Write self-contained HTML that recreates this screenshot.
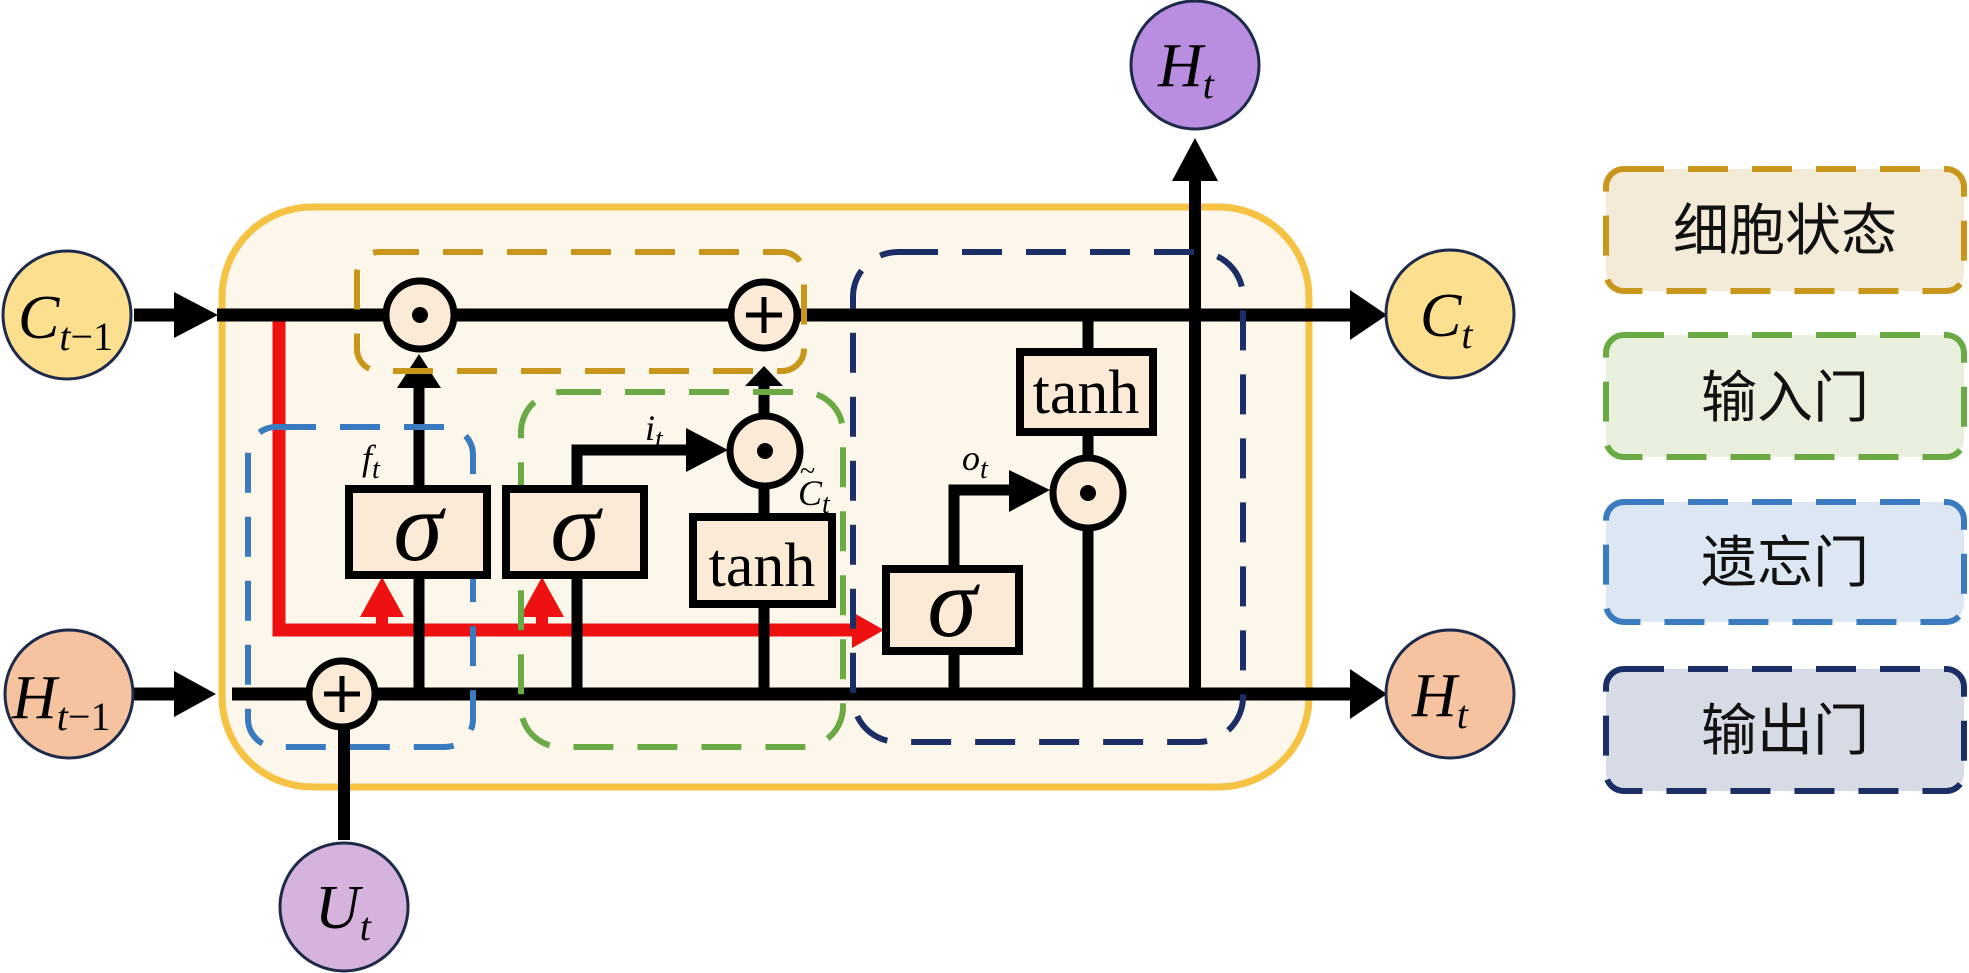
<!DOCTYPE html>
<html><head><meta charset="utf-8"><style>
html,body{margin:0;padding:0;background:#fff;}
svg{display:block;}
.s{font-family:"Liberation Serif",serif;}
.cjk{font-family:"Liberation Sans","Noto Sans CJK SC",sans-serif;}
</style></head><body>
<svg width="1969" height="973" viewBox="0 0 1969 973" xmlns="http://www.w3.org/2000/svg">
<rect x="222" y="207" width="1087" height="580" rx="90" fill="#fcf7ea" stroke="#f6c244" stroke-width="7"/>

<path d="M279,315 V630 H852" fill="none" stroke="#ee1111" stroke-width="13"/>
<polygon points="852,612 884,630 852,648" fill="#ee1111"/>
<polygon points="360,617 382,577 404,617" fill="#ee1111"/>
<rect x="376" y="612" width="12" height="18" fill="#ee1111"/>
<polygon points="520,617 542,577 564,617" fill="#ee1111"/>
<rect x="536" y="612" width="12" height="18" fill="#ee1111"/>

<line x1="217" y1="315" x2="1352" y2="315" stroke="#000" stroke-width="13"/>
<polygon points="1350,290 1387,315 1350,340" fill="#000"/>
<line x1="134" y1="315" x2="176" y2="315" stroke="#000" stroke-width="13"/>
<polygon points="174,292 218,315 174,338" fill="#000"/>

<line x1="232" y1="694" x2="1352" y2="694" stroke="#000" stroke-width="13"/>
<polygon points="1350,669 1387,694 1350,719" fill="#000"/>
<line x1="134" y1="694" x2="176" y2="694" stroke="#000" stroke-width="13"/>
<polygon points="174,671 216,694 174,717" fill="#000"/>

<line x1="344" y1="700" x2="344" y2="840" stroke="#000" stroke-width="12"/>
<line x1="419" y1="700" x2="419" y2="385" stroke="#000" stroke-width="11"/>
<polygon points="397,388 419,354 441,388" fill="#000"/>
<path d="M577,694 V450 H690" fill="none" stroke="#000" stroke-width="11"/>
<polygon points="686,428 728,450 686,472" fill="#000"/>
<line x1="764" y1="694" x2="764" y2="385" stroke="#000" stroke-width="11"/>
<polygon points="745,386 764,366 783,386" fill="#000"/>
<path d="M954,694 V490 H1012" fill="none" stroke="#000" stroke-width="11"/>
<polygon points="1009,470 1050,490 1009,512" fill="#000"/>
<line x1="1088" y1="315" x2="1088" y2="694" stroke="#000" stroke-width="11"/>
<line x1="1195" y1="694" x2="1195" y2="178" stroke="#000" stroke-width="12"/>
<polygon points="1172,181 1195,138 1218,181" fill="#000"/>

<rect x="357" y="252" width="447" height="119" rx="22" fill="none" stroke="#c8961a" stroke-width="6" stroke-dasharray="40,24"/>
<rect x="248" y="427" width="225" height="320" rx="28" fill="none" stroke="#3a7bbf" stroke-width="6" stroke-dasharray="40,24"/>
<rect x="521" y="392" width="322" height="355" rx="40" fill="none" stroke="#6aaa45" stroke-width="6" stroke-dasharray="40,24"/>
<rect x="853" y="252" width="390" height="490" rx="45" fill="none" stroke="#1b2f66" stroke-width="6" stroke-dasharray="40,24"/>

<g fill="#fbebd6" stroke="#000" stroke-width="7">
<circle cx="420" cy="315" r="34"/>
<circle cx="764" cy="315" r="33"/>
<circle cx="765" cy="451" r="35"/>
<circle cx="1088" cy="493" r="35"/>
<circle cx="342" cy="694" r="33"/>
</g>
<g fill="#000">
<circle cx="420" cy="315" r="8"/><circle cx="765" cy="451" r="8"/><circle cx="1088" cy="493" r="8"/>
</g>
<g stroke="#000" stroke-width="5">
<line x1="746" y1="315" x2="782" y2="315"/><line x1="764" y1="297" x2="764" y2="333"/>
<line x1="324" y1="694" x2="360" y2="694"/><line x1="342" y1="676" x2="342" y2="712"/>
</g>

<g fill="#fbebd6" stroke="#000" stroke-width="8">
<rect x="349" y="489" width="138" height="86"/>
<rect x="506" y="489" width="138" height="86"/>
<rect x="693" y="517" width="139" height="87"/>
<rect x="886" y="569" width="133" height="82"/>
<rect x="1020" y="352" width="133" height="80"/>
</g>
<g class="s" font-style="italic" font-size="100" text-anchor="middle">
<text x="418" y="560">σ</text><text x="575" y="560">σ</text><text x="952" y="636">σ</text>
</g>
<g class="s" font-size="62" text-anchor="middle">
<text x="762" y="586">tanh</text><text x="1086" y="413">tanh</text>
</g>
<g class="s" font-style="italic" font-size="36">
<text x="362" y="470">f<tspan font-size="28" dy="8">t</tspan></text>
<text x="645" y="440">i<tspan font-size="28" dy="8">t</tspan></text>
<text x="962" y="470">o<tspan font-size="28" dy="8">t</tspan></text>
<text x="798" y="505">C<tspan font-size="28" dy="8">t</tspan></text>
<text x="800" y="480" font-style="normal" font-size="28">~</text>
</g>

<g stroke="#1e2a4a" stroke-width="3">
<circle cx="67" cy="315" r="64" fill="#fce08f"/>
<circle cx="69" cy="694" r="64" fill="#f5c3a0"/>
<circle cx="344" cy="907" r="64" fill="#d5b3dc"/>
<circle cx="1450" cy="314" r="64" fill="#fce08f"/>
<circle cx="1450" cy="694" r="64" fill="#f5c3a0"/>
<circle cx="1195" cy="65" r="64" fill="#b98ee0"/>
</g>
<g class="s" font-style="italic" font-size="62">
<text x="18" y="338">C<tspan font-size="40" dy="12">t</tspan><tspan font-size="40" font-style="normal">−1</tspan></text>
<text x="12" y="718">H<tspan font-size="40" dy="12">t</tspan><tspan font-size="40" font-style="normal">−1</tspan></text>
<text x="315" y="928">U<tspan font-size="40" dy="12">t</tspan></text>
<text x="1420" y="336">C<tspan font-size="40" dy="12">t</tspan></text>
<text x="1412" y="716">H<tspan font-size="40" dy="12">t</tspan></text>
<text x="1158" y="86">H<tspan font-size="40" dy="12">t</tspan></text>
</g>

<rect x="1606" y="169" width="358" height="122" rx="18" fill="#f3ead8" stroke="#c8961a" stroke-width="6" stroke-dasharray="40,24"/>
<rect x="1606" y="335" width="358" height="122" rx="18" fill="#e8efdc" stroke="#6aaa45" stroke-width="6" stroke-dasharray="40,24"/>
<rect x="1606" y="502" width="358" height="120" rx="18" fill="#dde7f3" stroke="#3a7bbf" stroke-width="6" stroke-dasharray="40,24"/>
<rect x="1606" y="669" width="358" height="122" rx="18" fill="#d7dbe5" stroke="#1b2f66" stroke-width="6" stroke-dasharray="40,24"/>
<g class="cjk" font-size="56" text-anchor="middle" fill="#111">
<text x="1785" y="250">细胞状态</text>
<text x="1785" y="417">输入门</text>
<text x="1785" y="582">遗忘门</text>
<text x="1785" y="750">输出门</text>
</g>
</svg>
</body></html>
